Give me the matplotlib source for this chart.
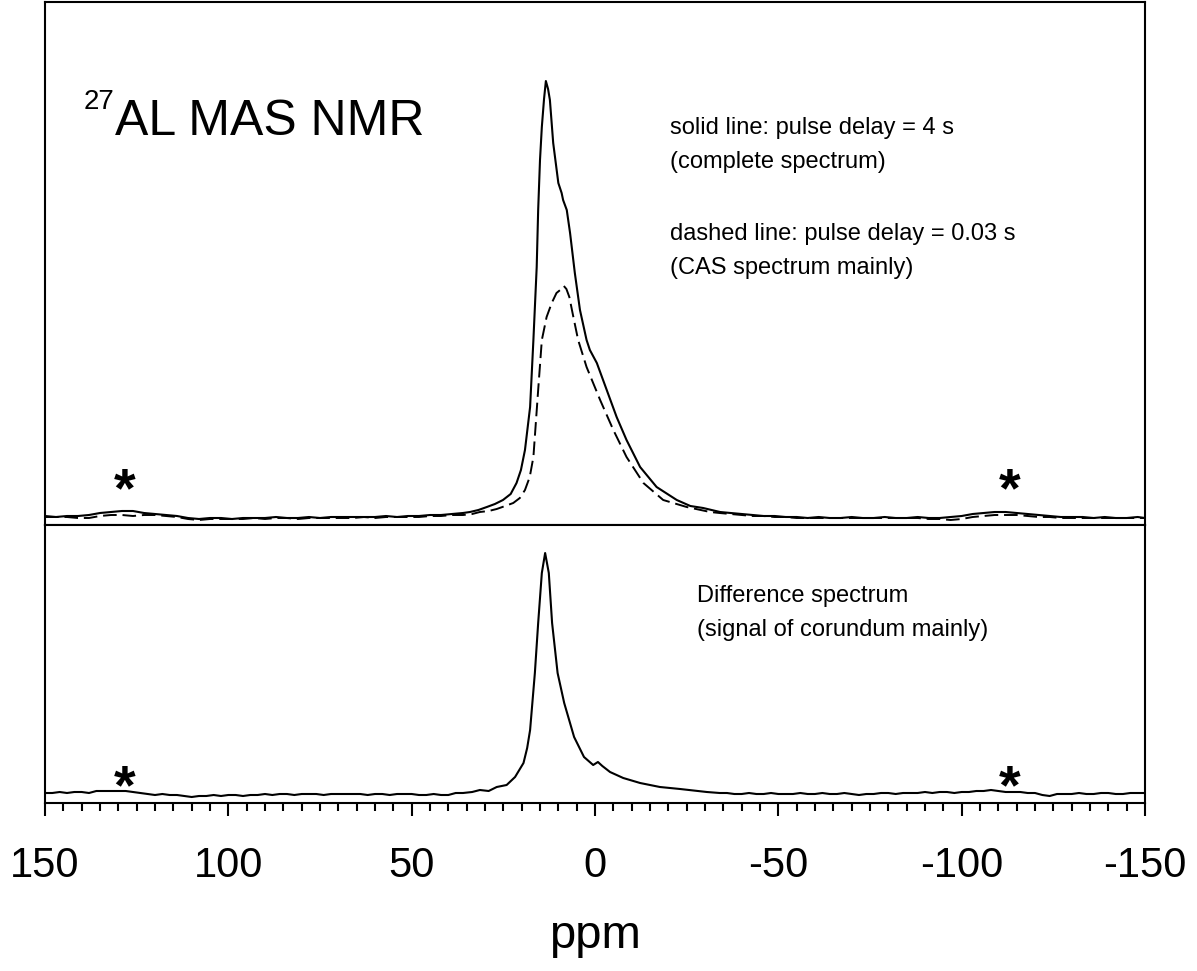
import numpy as np
import matplotlib
matplotlib.use("Agg")
import matplotlib.pyplot as plt
from matplotlib.ticker import MultipleLocator

plt.rcParams['font.family'] = ['Liberation Sans', 'DejaVu Sans']
plt.rcParams['axes.unicode_minus'] = False

# top panel, solid line: pulse delay 4 s  (ppm, intensity)
solid_ppm = [150, 147, 144, 141, 138, 135, 132, 129, 126, 123, 120, 117, 114, 111, 108, 105, 102, 99, 96, 93,
             90, 87, 84, 81, 78, 75, 72, 69, 66, 63, 60, 57, 54, 51, 48, 45, 42, 39, 36,
             34.1, 31.8, 29.5, 27.3, 25.1, 23, 21.4, 20.2, 19.1, 17.7, 16.8, 15.9, 15.5, 15.0, 14.5, 13.9, 13.4,
             12.8, 12.3, 11.4, 10.0, 9.1, 8.7, 7.7, 6.8, 5.5, 4.1, 2.3, 1.4, -0.5, -3.2, -5.9, -8.6, -12.3,
             -16.8, -22.3, -26, -29.5, -34.1,
             -37, -40, -43, -46, -49, -52, -55, -58, -61, -64, -67, -70, -73, -76, -79, -82, -85, -88, -91, -94,
             -97, -100, -103, -106, -109, -112, -115, -118, -121, -124, -127, -130, -133, -136, -139, -142, -145,
             -148, -150]
solid_int = [9, 8, 9, 9, 10, 12, 13, 14, 14, 12, 11, 10, 9, 7, 6, 7, 7, 6, 7, 7,
             7, 8, 7, 7, 8, 7, 8, 8, 8, 8, 8, 9, 8, 9, 9, 10, 10, 11, 12,
             13, 15, 18, 21, 25, 31, 42, 55, 75, 118, 185, 258, 315, 365, 398, 426, 444,
             436, 425, 382, 342, 332, 325, 315, 292, 252, 215, 185, 175, 162, 135, 108, 85, 58,
             38, 25, 19, 17, 13,
             12, 11, 10, 9, 9, 8, 8, 7, 8, 7, 7, 8, 7, 7, 8, 7, 7, 8, 7, 7,
             8, 9, 11, 12, 13, 13, 12, 11, 10, 9, 8, 8, 8, 7, 8, 7, 7,
             8, 7]

# top panel, dashed line: pulse delay 0.03 s
dash_ppm = [150, 147, 144, 141, 138, 135, 132, 129, 126, 123, 120, 117, 114, 111, 108, 105, 102, 99, 96, 93,
            90, 87, 84, 81, 78, 75, 72, 69, 66, 63, 60, 57, 54, 51, 48, 45, 42, 39, 36, 33.5,
            31.4, 29, 26.8, 24.5, 22.3, 20.5, 19.1, 17.8, 16.8, 15.5, 14.5, 14.1, 13.2, 11.8, 10.5, 9.5, 8.5,
            7.8, 7.0, 5.9, 4.6, 2.3, -1.4, -5.0, -8.6, -13.2, -18.6, -25.0, -31.4,
            -34, -37, -40, -43, -46, -49, -52, -55, -58, -61, -64, -67, -70, -73, -76, -79, -82, -85, -88, -91,
            -94, -97, -100, -103, -106, -109, -112, -115, -118, -121, -124, -127, -130, -133, -136, -139, -142,
            -145, -148, -150]
dash_int = [8, 8, 8, 7, 7, 9, 10, 10, 9, 10, 10, 9, 8, 6, 5, 6, 6, 6, 6, 7,
            6, 7, 7, 6, 7, 7, 7, 7, 7, 8, 7, 8, 8, 8, 8, 9, 9, 10, 10, 11,
            13, 14, 16, 19, 22, 27, 35, 48, 68, 135, 185, 192, 208, 222, 232, 235, 239,
            236, 228, 208, 185, 158, 125, 95, 68, 42, 25, 18, 13,
            12, 11, 10, 9, 9, 8, 8, 7, 7, 7, 7, 7, 7, 7, 7, 7, 7, 7, 7, 6,
            6, 5, 6, 8, 9, 10, 10, 10, 9, 8, 8, 7, 7, 7, 7, 7, 7,
            7, 7, 7]

# bottom panel: difference spectrum
diff_ppm = [150, 148, 146, 144, 142, 140, 138, 136, 134, 132, 130, 128, 126, 124, 122, 120, 118, 116, 114, 112,
            110, 108, 106, 104, 102, 100, 98, 96, 94, 92, 90, 88, 86, 84, 82, 80, 78, 76, 74, 72,
            70, 68, 66, 64, 62, 60, 58, 56, 54, 52, 50, 48, 46, 44, 42, 40, 38, 36,
            33.5, 31.4, 29, 26.8, 24.1, 21.8, 20.5, 19.5, 18.5, 17.7, 16.4, 15.5, 14.5, 13.6, 12.6, 11.7,
            10.2, 8.4, 5.7, 3.0, 0.5, -0.8, -2.0, -4.1, -7.7, -12.3, -17.7, -23.2, -30.5,
            -34, -36, -38, -40, -42, -44, -46, -48, -50, -52, -54, -56, -58, -60, -62, -64, -66, -68, -70, -72,
            -74, -76, -78, -80, -82, -84, -86, -88, -90, -92, -94, -96, -98, -100, -102, -104, -106, -108, -110,
            -112, -114, -116, -118, -120, -122, -124, -126, -128, -130, -132, -134, -136, -138, -140, -142, -144,
            -146, -148, -150]
diff_int = [10, 10, 11, 10, 11, 11, 10, 12, 12, 12, 12, 12, 11, 10, 9, 8, 9, 8, 8, 7,
            6, 7, 7, 8, 7, 8, 8, 7, 8, 8, 9, 8, 9, 9, 8, 9, 9, 9, 8, 9,
            9, 9, 9, 9, 8, 9, 9, 8, 9, 9, 9, 8, 8, 9, 8, 8, 10, 10,
            11, 13, 12, 16, 18, 26, 34, 40, 55, 73, 130, 180, 230, 250, 230, 180,
            130, 100, 66, 46, 38, 41, 37, 31, 25, 20, 16, 14, 11,
            10, 10, 9, 9, 10, 9, 9, 10, 9, 9, 9, 10, 9, 9, 10, 9, 9, 10, 9, 8,
            9, 9, 10, 10, 9, 10, 10, 10, 11, 10, 11, 11, 10, 11, 11, 12, 12, 13, 12,
            11, 11, 11, 10, 10, 8, 7, 9, 9, 9, 10, 9, 9, 10, 10, 9, 9,
            10, 10, 10]

# spinning sidebands
sideband_ppm = [128.2, -113.2]

fig = plt.figure(figsize=(11.97, 9.71), dpi=100)
gs = fig.add_gridspec(2, 1, height_ratios=[523, 278], hspace=0,
                      left=45 / 1197, right=1145 / 1197, top=1 - 2 / 971, bottom=1 - 803 / 971)
ax1 = fig.add_subplot(gs[0])
ax2 = fig.add_subplot(gs[1], sharex=ax1)

ax1.plot(solid_ppm, solid_int, color='black', lw=1.5)
ax1.plot(dash_ppm, dash_int, color='black', lw=1.4, dashes=(7, 3))
ax2.plot(diff_ppm, diff_int, color='black', lw=1.5)

ax1.set_xlim(150, -150)
ax1.set_ylim(0, 523)
ax2.set_ylim(0, 278)

for ax in (ax1, ax2):
    ax.set_yticks([])
    for s in ax.spines.values():
        s.set_linewidth(1.5)
ax1.tick_params(axis='x', which='both', bottom=False, labelbottom=False)
ax2.xaxis.set_major_locator(MultipleLocator(50))
ax2.xaxis.set_minor_locator(MultipleLocator(5))
ax2.tick_params(axis='x', which='major', direction='out', length=9, width=1.5, labelsize=30, pad=22)
ax2.tick_params(axis='x', which='minor', direction='out', length=6, width=1.5)
ax2.set_xlabel('ppm', fontsize=34, labelpad=20)

# labels
ax1.text(139.6, 416, '27', fontsize=20, va='baseline', ha='left')
ax1.text(130.9, 390, 'AL MAS NMR', fontsize=36, va='baseline', ha='left')
ax1.text(-20.5, 380, 'solid line: pulse delay = 4 s\n(complete spectrum)',
         fontsize=17, va='center', ha='left', linespacing=1.7)
ax1.text(-20.5, 274, 'dashed line: pulse delay = 0.03 s\n(CAS spectrum mainly)',
         fontsize=17, va='center', ha='left', linespacing=1.7)
ax2.text(-27.8, 190, 'Difference spectrum\n(signal of corundum mainly)',
         fontsize=17, va='center', ha='left', linespacing=1.7)

for p in sideband_ppm:
    ax1.text(p, 33, '*', fontsize=40, fontweight='bold', ha='center', va='center')
    ax2.text(p, 14, '*', fontsize=40, fontweight='bold', ha='center', va='center')

plt.savefig('out.png', dpi=100)
